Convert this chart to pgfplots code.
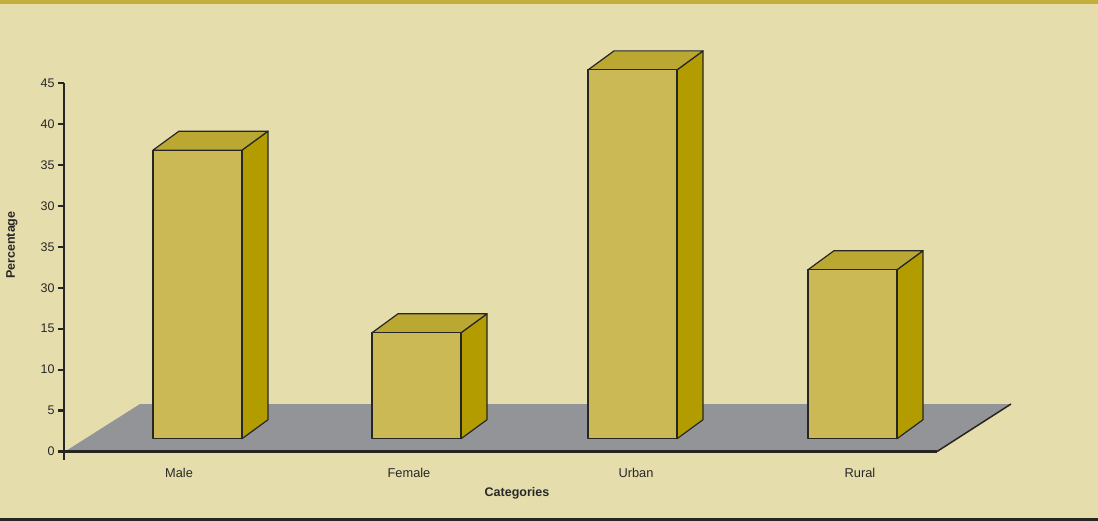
\documentclass[border=0pt]{standalone}
\usepackage{pgfplots}
\pgfplotsset{compat=1.18}
\usepackage{fontspec}
\setmainfont{Liberation Sans}
\definecolor{bgc}{RGB}{229,221,171}
\definecolor{bandc}{RGB}{196,175,60}
\definecolor{darkc}{RGB}{40,36,32}
\definecolor{greyline}{RGB}{140,134,110}
\definecolor{frontc}{RGB}{203,185,85}
\definecolor{topc}{RGB}{187,168,51}
\definecolor{sidec}{RGB}{178,156,0}
\definecolor{floorc}{RGB}{147,148,152}
\definecolor{outc}{RGB}{38,38,38}
\definecolor{textc}{RGB}{40,40,40}
\begin{document}
\begin{tikzpicture}[x=1pt,y=1pt]
\fill[bgc] (0,0) rectangle (1098,521);
\fill[bandc] (0,517.3) rectangle (1098,521);
\fill[greyline] (0,2.3) rectangle (1098,3.3);
\fill[darkc] (0,0) rectangle (1098,2.5);
\begin{axis}[
  at={(64pt,61.3pt)}, anchor=south west,
  x=1pt, y=8.189pt,
  xmin=64, xmax=1011, ymin=-1.0, ymax=45,
  clip=false,
  axis y line*=left, axis x line*=bottom,
  x axis line style={draw=none},
  y axis line style={line width=2.4pt, draw=outc, -},
  ytick={0,5,10,15,20,25,30,35,40,45},
  yticklabels={0,5,10,15,30,35,30,35,40,45},
  xtick={179,409,636,860},
  xticklabels={Male,Female,Urban,Rural},
  major x tick style={draw=none},
  major y tick style={line width=2.2pt, draw=outc},
  y tick label style={font=\fontsize{12.5}{14}\selectfont, text=textc},
  x tick label style={font=\fontsize{12.8}{14}\selectfont, text=textc, anchor=base, yshift=-11.6pt},
  tick align=outside,
  major tick length=6pt,
  minor tick num=0,
  every axis y label/.style={at={(axis cs:12,25.2)}, rotate=90, anchor=center, font=\fontsize{12.5}{14}\selectfont\bfseries, text=textc},
  every axis x label/.style={at={(axis cs:517,-5.07)}, anchor=center, font=\fontsize{12.5}{14}\selectfont\bfseries, text=textc},
  ylabel={Percentage},
  xlabel={Categories},
]
% floor
\addplot[fill=floorc, draw=none] coordinates {(65,0) (140,5.8) (1011,5.8) (937,0)} --cycle;
\addplot[draw=darkc, line width=1.5pt] coordinates {(937,0) (1011,5.8)};
\addplot[draw=darkc, line width=2.6pt] coordinates {(64,0) (937,0)};
% Male: 36.8
\addplot[fill=sidec, draw=outc, line width=1.2pt, line join=round] coordinates {(242,1.56) (268,3.88) (268,39.12) (242,36.8)} --cycle;
\addplot[fill=topc, draw=outc, line width=1.2pt, line join=round] coordinates {(153,36.8) (179,39.12) (268,39.12) (242,36.8)} --cycle;
\addplot[fill=frontc, draw=outc, line width=1.2pt, line join=round] coordinates {(153,1.56) (153,36.8) (242,36.8) (242,1.56)} --cycle;
% Female: 14.5
\addplot[fill=sidec, draw=outc, line width=1.2pt, line join=round] coordinates {(461,1.56) (487,3.88) (487,16.82) (461,14.5)} --cycle;
\addplot[fill=topc, draw=outc, line width=1.2pt, line join=round] coordinates {(372,14.5) (398,16.82) (487,16.82) (461,14.5)} --cycle;
\addplot[fill=frontc, draw=outc, line width=1.2pt, line join=round] coordinates {(372,1.56) (372,14.5) (461,14.5) (461,1.56)} --cycle;
% Urban: 46.6
\addplot[fill=sidec, draw=outc, line width=1.2pt, line join=round] coordinates {(677,1.56) (703,3.88) (703,48.92) (677,46.6)} --cycle;
\addplot[fill=topc, draw=outc, line width=1.2pt, line join=round] coordinates {(588,46.6) (614,48.92) (703,48.92) (677,46.6)} --cycle;
\addplot[fill=frontc, draw=outc, line width=1.2pt, line join=round] coordinates {(588,1.56) (588,46.6) (677,46.6) (677,1.56)} --cycle;
% Rural: 22.2
\addplot[fill=sidec, draw=outc, line width=1.2pt, line join=round] coordinates {(897,1.56) (923,3.88) (923,24.52) (897,22.2)} --cycle;
\addplot[fill=topc, draw=outc, line width=1.2pt, line join=round] coordinates {(808,22.2) (834,24.52) (923,24.52) (897,22.2)} --cycle;
\addplot[fill=frontc, draw=outc, line width=1.2pt, line join=round] coordinates {(808,1.56) (808,22.2) (897,22.2) (897,1.56)} --cycle;
\end{axis}
\pgfresetboundingbox
\path[use as bounding box] (0,0) rectangle (1098,521);
\end{tikzpicture}
\end{document}
